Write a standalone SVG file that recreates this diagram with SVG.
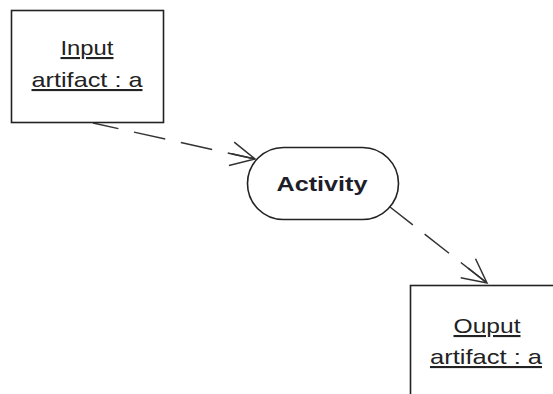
<svg xmlns="http://www.w3.org/2000/svg" width="553" height="394" viewBox="0 0 553 394">
<defs>
<style>
.box{fill:#fff;stroke:#222;stroke-width:1.6}
.lbl{font-family:"Liberation Sans",Arial,sans-serif;font-size:21px;fill:#222;text-anchor:middle;text-decoration:underline}
.act{font-family:"Liberation Sans",Arial,sans-serif;font-size:21px;font-weight:bold;fill:#1e1e2a;text-anchor:middle}
.conn{fill:none;stroke:#333;stroke-width:1.5}
</style>
<marker id="arr" markerUnits="userSpaceOnUse" viewBox="-26 -14 28 28" refX="0" refY="0" markerWidth="28" markerHeight="28" orient="auto">
<path d="M -24 -12 L 0 0 L -24 12 M -24 0 L 0 0" fill="none" stroke="#333" stroke-width="1.5"/>
</marker>
</defs>
<rect width="553" height="394" fill="#fff"/>
<g id="connectors">
<line class="conn" x1="93" y1="123" x2="255" y2="159" stroke-dasharray="32 16" stroke-dashoffset="6" marker-end="url(#arr)"/>
<line class="conn" x1="390" y1="207" x2="487" y2="283" stroke-dasharray="31 15" stroke-dashoffset="2" marker-end="url(#arr)"/>
</g>
<g id="input">
<rect class="box" x="11.5" y="10.5" width="152" height="112"/>
<text class="lbl" x="87" y="55" textLength="53" lengthAdjust="spacingAndGlyphs">Input</text>
<text class="lbl" x="87" y="87" textLength="111" lengthAdjust="spacingAndGlyphs">artifact : a</text>
</g>
<g id="activity">
<rect class="box" x="247.5" y="147.5" width="151" height="72" rx="36" ry="36"/>
<text class="act" x="322" y="191" textLength="91" lengthAdjust="spacingAndGlyphs">Activity</text>
</g>
<g id="output">
<rect class="box" x="410.5" y="285.5" width="153" height="113"/>
<text class="lbl" x="487" y="333" textLength="67" lengthAdjust="spacingAndGlyphs">Ouput</text>
<text class="lbl" x="486" y="364" textLength="112" lengthAdjust="spacingAndGlyphs">artifact : a</text>
</g>
</svg>
